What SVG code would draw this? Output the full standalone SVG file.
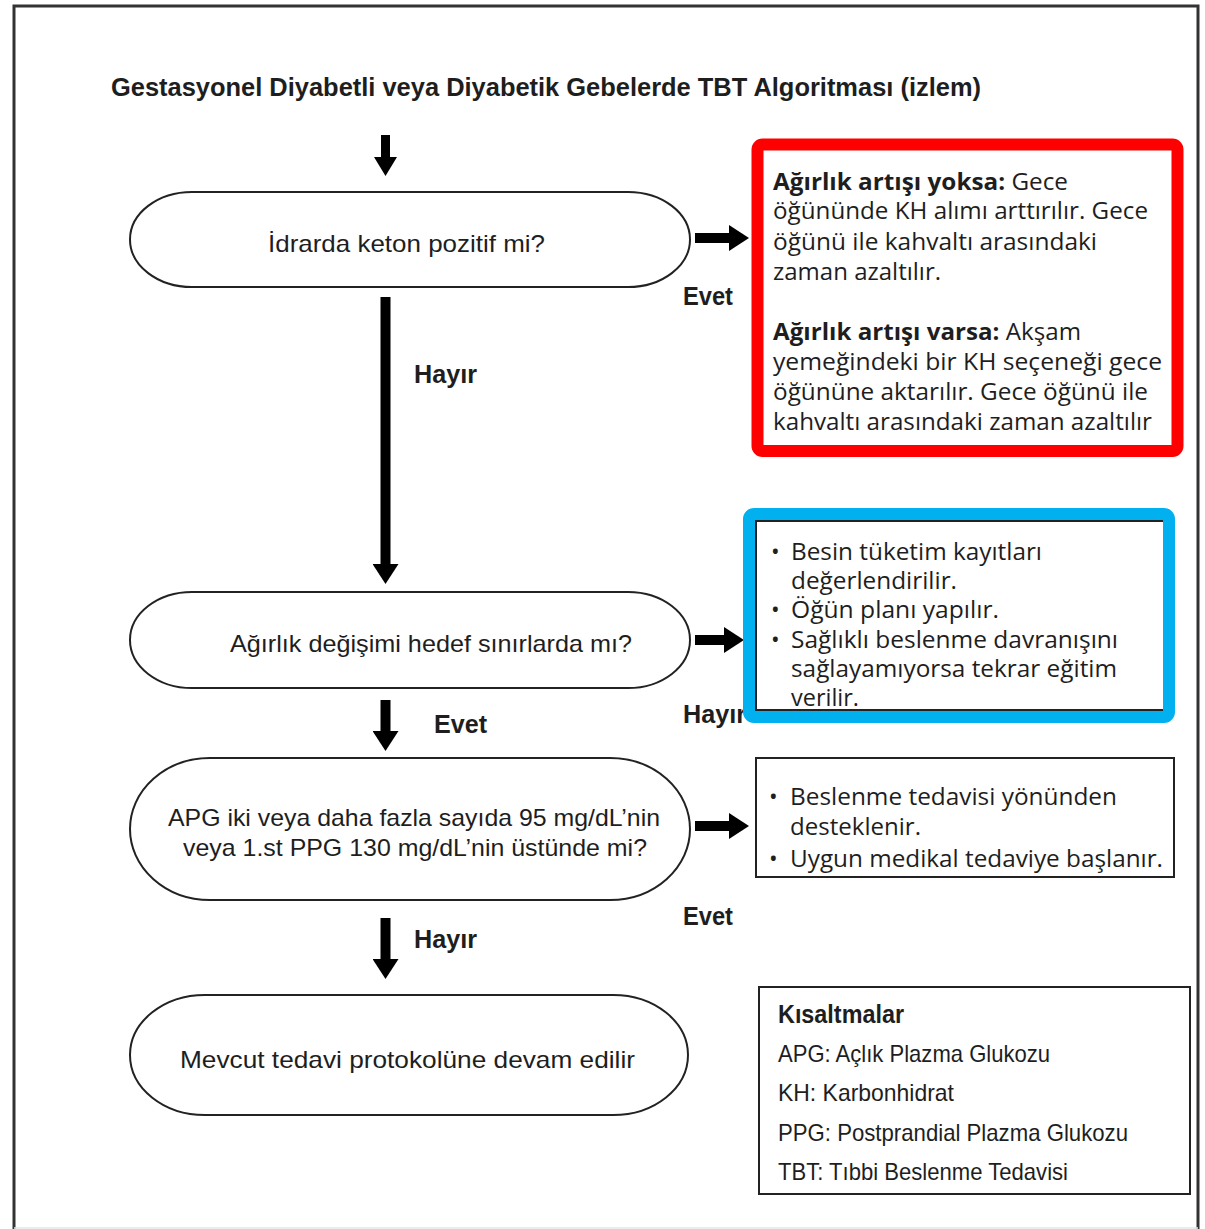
<svg xmlns="http://www.w3.org/2000/svg" width="1205" height="1229" viewBox="0 0 1205 1229">
<style>
text{font-family:"Open Sans","Liberation Sans",sans-serif;fill:#1e1e1e;font-size:23px}
.b{font-weight:bold}
.t{font-family:"Liberation Sans Narrow","Liberation Sans",sans-serif;font-weight:bold;font-size:26px}
.n{font-family:"Liberation Sans Narrow","Liberation Sans",sans-serif;font-size:24px}
.lbl{font-family:"Liberation Sans Narrow","Liberation Sans",sans-serif;font-weight:bold;font-size:25px}
.term{fill:#fff;stroke:#222;stroke-width:2}
.box{fill:#fff;stroke:#222;stroke-width:2}
.conn{stroke:#000;stroke-width:10;fill:none}
</style>
<defs>
<marker id="ah" markerUnits="userSpaceOnUse" viewBox="0 0 20 26" markerWidth="20" markerHeight="26" refX="1" refY="13" orient="auto">
<path d="M0,0 L20,13 L0,26 Z" fill="#000"/>
</marker>
</defs>
<rect width="1205" height="1229" fill="#fff"/>
<g id="page-border">
<path d="M14,1229 V6 H1198 V1229" fill="none" stroke="#333" stroke-width="3"/>
<line x1="14" y1="1228" x2="1198" y2="1228" stroke="#e6e6e6" stroke-width="1.5"/>
</g>
<g id="title"><text class="t" x="111" y="96" textLength="870" lengthAdjust="spacingAndGlyphs">Gestasyonel Diyabetli veya Diyabetik Gebelerde TBT Algoritması (izlem)</text></g>

<g id="connectors">
<line class="conn" x1="385.5" y1="135" x2="385.5" y2="157" style="stroke-width:9"/>
<line class="conn" x1="385.5" y1="297" x2="385.5" y2="565" marker-end="url(#ah)"/>
<line class="conn" x1="385.5" y1="700" x2="385.5" y2="732" marker-end="url(#ah)"/>
<line class="conn" x1="385.5" y1="918" x2="385.5" y2="960" marker-end="url(#ah)"/>
<line class="conn" x1="695" y1="238" x2="730" y2="238" marker-end="url(#ah)"/>
<line class="conn" x1="695" y1="640" x2="725" y2="640" marker-end="url(#ah)"/>
<line class="conn" x1="695" y1="826" x2="730" y2="826" marker-end="url(#ah)"/>
<path d="M374,157 L397,157 L385.5,176 Z" fill="#000"/>
<text class="lbl" x="683" y="305" textLength="50" lengthAdjust="spacingAndGlyphs">Evet</text>
<text class="lbl" x="414" y="383" textLength="63" lengthAdjust="spacingAndGlyphs">Hayır</text>
<text class="lbl" x="683" y="723" textLength="63" lengthAdjust="spacingAndGlyphs">Hayır</text>
<text class="lbl" x="434" y="733" textLength="53" lengthAdjust="spacingAndGlyphs">Evet</text>
<text class="lbl" x="683" y="925" textLength="50" lengthAdjust="spacingAndGlyphs">Evet</text>
<text class="lbl" x="414" y="948" textLength="63" lengthAdjust="spacingAndGlyphs">Hayır</text>
</g>

<g id="node-keton">
<rect class="term" x="130" y="192" width="560" height="95" rx="62" ry="47.5"/>
<text class="n" x="268" y="252" textLength="277" lengthAdjust="spacingAndGlyphs">İdrarda keton pozitif mi?</text>
</g>
<g id="node-agirlik">
<rect class="term" x="130" y="592" width="560" height="96" rx="62" ry="48"/>
<text class="n" x="230" y="652" textLength="402" lengthAdjust="spacingAndGlyphs">Ağırlık değişimi hedef sınırlarda mı?</text>
</g>
<g id="node-apg">
<rect class="term" x="130" y="758" width="560" height="142" rx="80" ry="71"/>
<text class="n" x="168" y="826" textLength="492" lengthAdjust="spacingAndGlyphs">APG iki veya daha fazla sayıda 95 mg/dL’nin</text>
<text class="n" x="183" y="856" textLength="464" lengthAdjust="spacingAndGlyphs">veya 1.st PPG 130 mg/dL’nin üstünde mi?</text>
</g>
<g id="node-mevcut">
<rect class="term" x="130" y="995" width="558" height="120" rx="75" ry="60"/>
<text class="n" x="180" y="1068" textLength="455" lengthAdjust="spacingAndGlyphs">Mevcut tedavi protokolüne devam edilir</text>
</g>

<g id="box-keton">
<rect x="757.5" y="144.5" width="420" height="306.5" rx="5" fill="#fff" stroke="#ff0000" stroke-width="12"/>
<text x="773" y="190" textLength="295" lengthAdjust="spacingAndGlyphs"><tspan class="b">Ağırlık artışı yoksa:</tspan> Gece</text>
<text x="773" y="219" textLength="375" lengthAdjust="spacingAndGlyphs">öğününde KH alımı arttırılır. Gece</text>
<text x="773" y="250" textLength="324" lengthAdjust="spacingAndGlyphs">öğünü ile kahvaltı arasındaki</text>
<text x="773" y="280" textLength="168" lengthAdjust="spacingAndGlyphs">zaman azaltılır.</text>
<text x="773" y="340" textLength="308" lengthAdjust="spacingAndGlyphs"><tspan class="b">Ağırlık artışı varsa:</tspan> Akşam</text>
<text x="773" y="370" textLength="389" lengthAdjust="spacingAndGlyphs">yemeğindeki bir KH seçeneği gece</text>
<text x="773" y="400" textLength="375" lengthAdjust="spacingAndGlyphs">öğününe aktarılır. Gece öğünü ile</text>
<text x="773" y="430" textLength="379" lengthAdjust="spacingAndGlyphs">kahvaltı arasındaki zaman azaltılır</text>
</g>

<g id="box-agirlik">
<rect x="756" y="521" width="412" height="189" fill="#fff" stroke="#222" stroke-width="2"/>
<text x="771" y="560">•</text>
<text x="791" y="560" textLength="251" lengthAdjust="spacingAndGlyphs">Besin tüketim kayıtları</text>
<text x="791" y="589" textLength="166" lengthAdjust="spacingAndGlyphs">değerlendirilir.</text>
<text x="771" y="618">•</text>
<text x="791" y="618" textLength="208" lengthAdjust="spacingAndGlyphs">Öğün planı yapılır.</text>
<text x="771" y="648">•</text>
<text x="791" y="648" textLength="327" lengthAdjust="spacingAndGlyphs">Sağlıklı beslenme davranışını</text>
<text x="791" y="677" textLength="326" lengthAdjust="spacingAndGlyphs">sağlayamıyorsa tekrar eğitim</text>
<text x="791" y="706" textLength="68" lengthAdjust="spacingAndGlyphs">verilir.</text>
<rect x="749" y="514" width="420" height="203" rx="5" fill="none" stroke="#00b0ef" stroke-width="12"/>
</g>

<g id="box-apg">
<rect class="box" x="756" y="758" width="418" height="119"/>
<text x="769" y="805">•</text>
<text x="790" y="805" textLength="327" lengthAdjust="spacingAndGlyphs">Beslenme tedavisi yönünden</text>
<text x="790" y="835" textLength="131" lengthAdjust="spacingAndGlyphs">desteklenir.</text>
<text x="769" y="867">•</text>
<text x="790" y="867" textLength="373" lengthAdjust="spacingAndGlyphs">Uygun medikal tedaviye başlanır.</text>
</g>

<g id="box-kisaltmalar">
<rect class="box" x="759" y="987" width="431" height="207"/>
<text class="lbl" x="778" y="1023" textLength="126" lengthAdjust="spacingAndGlyphs">Kısaltmalar</text>
<text class="n" x="778" y="1062" textLength="272" lengthAdjust="spacingAndGlyphs">APG: Açlık Plazma Glukozu</text>
<text class="n" x="778" y="1101" textLength="176" lengthAdjust="spacingAndGlyphs">KH: Karbonhidrat</text>
<text class="n" x="778" y="1141" textLength="350" lengthAdjust="spacingAndGlyphs">PPG: Postprandial Plazma Glukozu</text>
<text class="n" x="778" y="1180" textLength="290" lengthAdjust="spacingAndGlyphs">TBT: Tıbbi Beslenme Tedavisi</text>
</g>
</svg>
